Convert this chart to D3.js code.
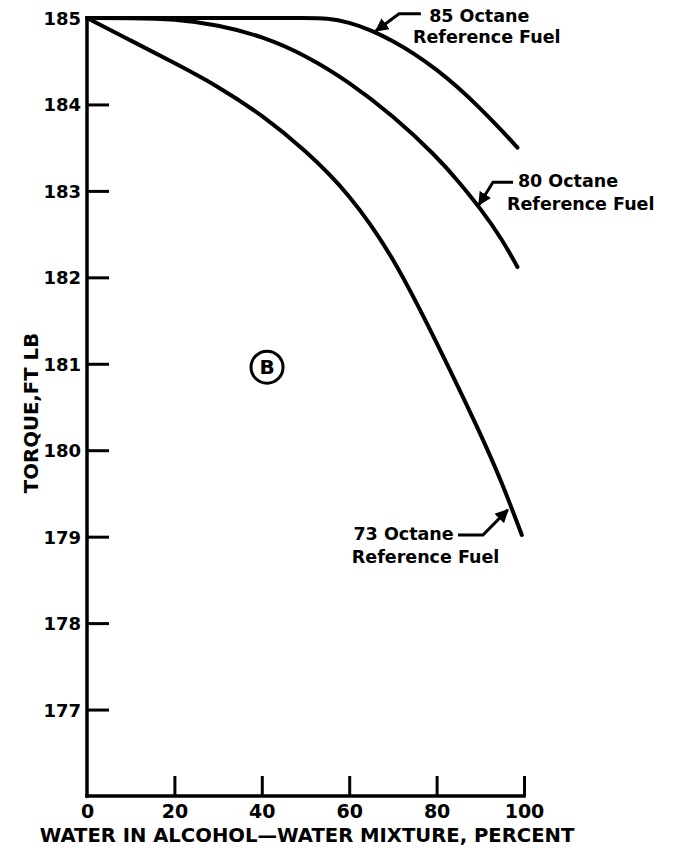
<!DOCTYPE html>
<html>
<head>
<meta charset="utf-8">
<script src="https://cdn.jsdelivr.net/npm/d3@7"></script>
<style>
  html, body { margin: 0; padding: 0; background: #fff; }
  svg { display: block; }
  text { font-family: "DejaVu Sans", sans-serif; font-weight: bold; fill: #000; }
</style>
</head>
<body>
<svg id="chart" width="677" height="854"></svg>
<script>
// ---- data ----
const xTicks = [0, 20, 40, 60, 80, 100];
const yTicks = [177, 178, 179, 180, 181, 182, 183, 184, 185];

const water85 = [0, 10, 20, 30, 40, 50, 55, 60, 65, 70, 75, 80, 85, 90, 95, 98.5];
const torque85 = [185, 185, 185, 185, 185, 185, 185, 184.95, 184.86, 184.735, 184.585, 184.405, 184.195, 183.955, 183.695, 183.50];

const water80 = [0, 10, 20, 30, 40, 50, 60, 70, 80, 85, 90, 95, 98.5];
const torque80 = [185, 185, 184.99, 184.92, 184.79, 184.57, 184.26, 183.87, 183.40, 183.11, 182.80, 182.44, 182.12];

const water73 = [0, 10, 20, 30, 40, 50, 60, 70, 80, 90, 95, 99.5];
const torque73 = [185, 184.74, 184.48, 184.21, 183.88, 183.47, 182.97, 182.25, 181.25, 180.20, 179.62, 179.02];

const seriesNames = ["85 Octane", "80 Octane", "73 Octane"];
const xTitle = "WATER IN ALCOHOL\u2014WATER MIXTURE, PERCENT";
const yTitle = "TORQUE,FT LB";
const panelTag = "B";

// ---- scales ----
const svg = d3.select("#chart");
const x = d3.scaleLinear().domain([0, 100]).range([87, 524]);
const y = d3.scaleLinear().domain([176, 185]).range([796, 18]);

// ---- axes ----
const yAxis = d3.axisLeft(y).tickValues(yTicks).tickSizeInner(-22).tickSizeOuter(0).tickPadding(6).tickFormat(d3.format("d"));
const gy = svg.append("g").attr("transform", `translate(${x(0)},0)`).call(yAxis);
gy.select(".domain").remove();
gy.selectAll(".tick line").attr("stroke", "#000").attr("stroke-width", 3);
gy.selectAll(".tick text").style("font-size", "18px").attr("dy", "0.36em");
gy.selectAll(".tick").filter(d => d === 185).select("line").remove();

const xAxis = d3.axisBottom(x).tickValues(xTicks).tickSizeInner(-20).tickSizeOuter(0).tickPadding(9).tickFormat(d3.format("d"));
const gx = svg.append("g").attr("transform", `translate(0,${y(176)})`).call(xAxis);
gx.select(".domain").remove();
gx.selectAll(".tick line").attr("stroke", "#000").attr("stroke-width", 3);
gx.selectAll(".tick").filter(d => d === 0).select("line").remove();
gx.selectAll(".tick text").style("font-size", "19px");

// axis lines
svg.append("line").attr("x1", x(0)).attr("x2", x(0)).attr("y1", y(185)).attr("y2", y(176))
  .attr("stroke", "#000").attr("stroke-width", 3.5).attr("stroke-linecap", "square");
svg.append("line").attr("x1", x(0)).attr("x2", x(100)).attr("y1", y(176)).attr("y2", y(176))
  .attr("stroke", "#000").attr("stroke-width", 3.5).attr("stroke-linecap", "square");

// ---- curves ----
const line = d3.line().x(d => x(d[0])).y(d => y(d[1])).curve(d3.curveBasis);
const series = [
  d3.zip(water85, torque85),
  d3.zip(water80, torque80),
  d3.zip(water73, torque73)
];
svg.selectAll("path.curve").data(series).join("path")
  .attr("class", "curve")
  .attr("d", line)
  .attr("fill", "none")
  .attr("stroke", "#000")
  .attr("stroke-width", 4)
  .attr("stroke-linecap", "round")
  .attr("stroke-linejoin", "round");

// ---- annotations (in data units) ----
svg.append("defs").append("marker")
  .attr("id", "arrow").attr("viewBox", "0 0 10 10").attr("refX", 9).attr("refY", 5)
  .attr("markerWidth", 4.5).attr("markerHeight", 4.5).attr("orient", "auto")
  .append("path").attr("d", "M0,0 L10,5 L0,10 Z").attr("fill", "#000");

const annotations = [
  { name: seriesNames[0], leader: [[76.4, 185.05], [71.4, 185.05], [66.1, 184.85]],
    l1: [78.3, 184.95], l2: [74.6, 184.71], anchor: "start" },
  { name: seriesNames[1], leader: [[97.5, 183.10], [92.9, 183.10], [89.7, 182.84]],
    l1: [98.6, 183.04], l2: [96.1, 182.78], anchor: "start" },
  { name: seriesNames[2], leader: [[84.9, 179.02], [90.6, 179.02], [96.3, 179.31]],
    l1: [83.9, 178.96], l2: [60.6, 178.69], anchor: "end" }
];
const leaderLine = d3.line().x(d => x(d[0])).y(d => y(d[1]));
annotations.forEach(a => {
  svg.append("path").attr("d", leaderLine(a.leader)).attr("fill", "none")
    .attr("stroke", "#000").attr("stroke-width", 3).attr("marker-end", "url(#arrow)");
  svg.append("text").attr("x", x(a.l1[0])).attr("y", y(a.l1[1]))
    .attr("text-anchor", a.anchor).style("font-size", "17.5px").text(a.name);
  svg.append("text").attr("x", x(a.l2[0])).attr("y", y(a.l2[1]))
    .attr("text-anchor", "start").style("font-size", "17.5px").text("Reference Fuel");
});

// circled B
const tag = [41.2, 180.96];
svg.append("circle").attr("cx", x(tag[0])).attr("cy", y(tag[1])).attr("r", 16)
  .attr("fill", "none").attr("stroke", "#000").attr("stroke-width", 3);
svg.append("text").attr("x", x(tag[0])).attr("y", y(tag[1])).attr("dy", "0.36em")
  .attr("text-anchor", "middle").style("font-size", "20px").text(panelTag);

// axis titles
svg.append("text").attr("x", 307).attr("y", 842).attr("text-anchor", "middle")
  .style("font-size", "19.6px").text(xTitle);
svg.append("text").attr("transform", "translate(38,413) rotate(-90)").attr("text-anchor", "middle")
  .style("font-size", "19.7px").text(yTitle);
</script>
</body>
</html>
